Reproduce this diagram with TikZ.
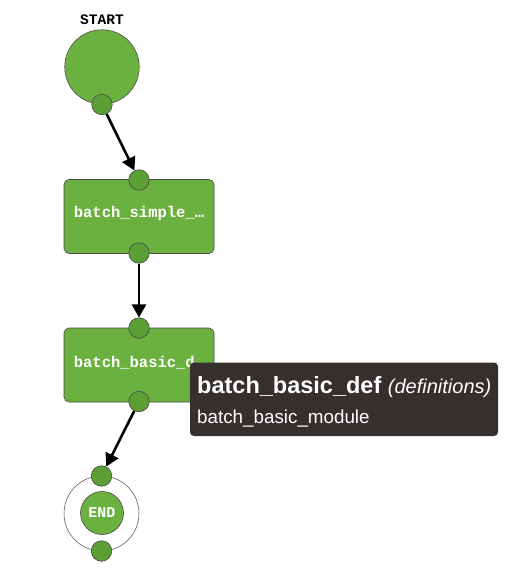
\documentclass[tikz,border=0pt]{standalone}
\usepackage{fontspec}
\setmainfont{Liberation Sans}
\newfontfamily\monofont{Liberation Mono}
\usetikzlibrary{arrows.meta}
\definecolor{nodegreen}{HTML}{6BB13F}
\definecolor{portgreen}{HTML}{5B9E34}
\definecolor{edgegray}{HTML}{4A4A4A}
\definecolor{tipbg}{HTML}{35302E}
\begin{document}
\begin{tikzpicture}[x=1pt,y=-1pt,
  bignode/.style={circle, draw=edgegray, fill=nodegreen, line width=0.6pt, minimum size=74.5pt, inner sep=0pt},
  portnode/.style={circle, draw=edgegray, fill=portgreen, line width=0.6pt, minimum size=20.5pt, inner sep=0pt},
  taskbox/.style={rectangle, rounded corners=5pt, draw=edgegray, fill=nodegreen, line width=0.6pt, minimum width=150pt, minimum height=74pt, inner sep=0pt},
  endring/.style={circle, draw=edgegray, fill=white, line width=0.5pt, minimum size=75pt, inner sep=0pt},
  endcore/.style={circle, draw=edgegray, fill=nodegreen, line width=0.6pt, minimum size=43pt, inner sep=0pt},
  monolabel/.style={font=\monofont\bfseries\fontsize{15.5}{16}\selectfont, text=white, inner sep=0pt},
  flowarrow/.style={-{Triangle[length=13pt,width=14pt]}, line width=2.6pt, black},
  tipbox/.style={rectangle, rounded corners=4pt, fill=tipbg, inner sep=0pt}
]
\useasboundingbox (0,0) rectangle (517,571);

% START
\node[font=\monofont\bfseries\fontsize{14.5}{15}\selectfont, inner sep=0pt] (startlbl) at (102,20) {START};
\node[bignode] (start) at (102,67) {};
\node[portnode] (startout) at (102,104.5) {};

% task 1
\node[taskbox] (t1) at (139,216.5) {};
\node[monolabel] (t1lbl) at (139,213) {batch\_simple\_…};
\node[portnode] (t1in) at (139,180) {};
\node[portnode] (t1out) at (139,253) {};

% task 2
\node[taskbox] (t2) at (139,365) {};
\node[monolabel] (t2lbl) at (139,362.5) {batch\_basic\_d…};
\node[portnode] (t2in) at (139,328) {};
\node[portnode] (t2out) at (139,401.5) {};

% END
\node[endring] (endr) at (101.5,513.5) {};
\node[endcore] (endc) at (102,513) {};
\node[monolabel, font=\monofont\bfseries\fontsize{15}{16}\selectfont] (endlbl) at (102,513) {END};
\node[portnode] (endin) at (101.5,476) {};
\node[portnode] (endout) at (101.5,551) {};

% arrows
\draw[flowarrow] (startout) -- (t1in);
\draw[flowarrow] (t1out) -- (t2in);
\draw[flowarrow] (t2out) -- (endin);

% tooltip
\node[tipbox, minimum width=308pt, minimum height=73.5pt] (tip) at (344,399.25) {};
\node[anchor=base west, inner sep=0pt, text=white, font=\fontsize{23.5}{24}\selectfont] (tiptitle) at (197,393) {\textbf{batch\_basic\_def} {\fontsize{20}{20}\selectfont\itshape (definitions)}};
\node[anchor=base west, inner sep=0pt, text=white, font=\fontsize{18.8}{20}\selectfont] (tipsub) at (197,423) {batch\_basic\_module};
\end{tikzpicture}
\end{document}
